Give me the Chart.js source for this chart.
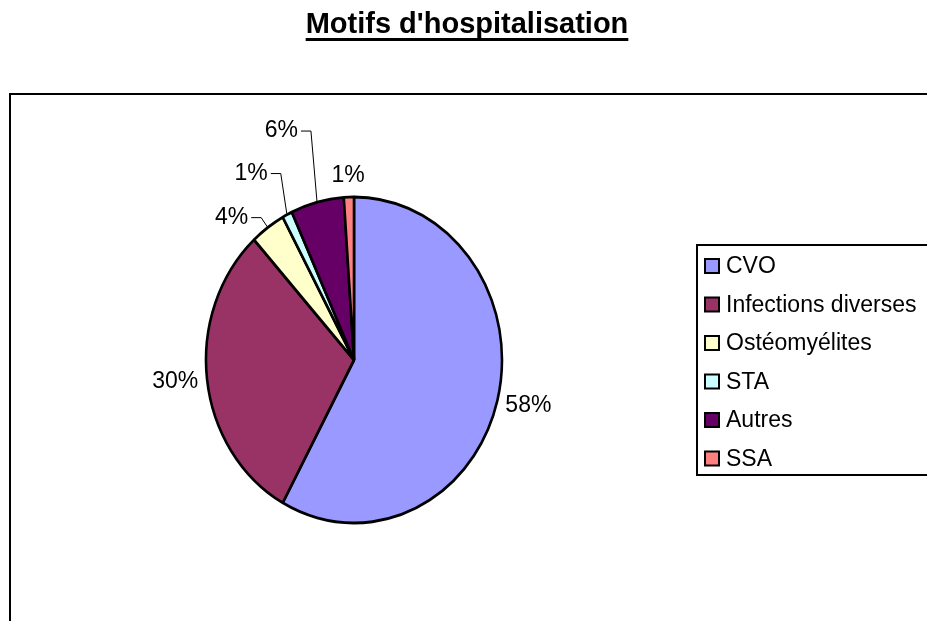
<!DOCTYPE html>
<html>
<head>
<meta charset="utf-8">
<script src="https://cdn.jsdelivr.net/npm/chart.js@4/dist/chart.umd.min.js"></script>
<style>
  html, body { margin: 0; padding: 0; background: #fff; }
</style>
</head>
<body>
<canvas id="pie" width="927" height="621"></canvas>
<script>
// données (en %)
const categories = ["CVO", "Infections diverses", "Ostéomyélites", "STA", "Autres", "SSA"];
const shares = [58.0, 30.2, 3.8, 1.1, 5.8, 1.1];
const sliceColors = ["#9999FF", "#993366", "#FFFFCC", "#CCFFFF", "#660066", "#FF8080"];
const chartTitle = "Motifs d'hospitalisation";

// hauteur des traits de rappel pour les petites parts (0 = étiquette simple)
const leaderLift = [0, 0, 9, 40, 70, 0];

const FONT = "'Liberation Sans', Arial, sans-serif";
const SQUASH = 163 / 148; // le camembert d'origine est un peu ovale

// cadre, titre souligné
const framePlugin = {
    id: "frame",
    beforeDraw(chart) {
        const ctx = chart.ctx;
        ctx.save();
        ctx.fillStyle = "#fff";
        ctx.fillRect(0, 0, chart.width, chart.height);
        ctx.strokeStyle = "#000";
        ctx.lineWidth = 2;
        ctx.strokeRect(10, 94, chart.width + 20, chart.height + 20);

        ctx.font = "bold 29px " + FONT;
        ctx.fillStyle = "#000";
        ctx.textAlign = "center";
        ctx.textBaseline = "alphabetic";
        ctx.fillText(chartTitle, 467, 33);
        const w = ctx.measureText(chartTitle).width;
        ctx.fillRect(467 - w / 2, 38, w, 3);
        ctx.restore();
    }
};

// écrase le camembert verticalement puis pose les étiquettes
const ovalPlugin = {
    id: "oval",
    beforeDatasetsDraw(chart) {
        const arc = chart.getDatasetMeta(0).data[0];
        const ctx = chart.ctx;
        ctx.save();
        ctx.translate(arc.x, arc.y);
        ctx.scale(1, SQUASH);
        ctx.translate(-arc.x, -arc.y);
    },
    afterDatasetsDraw(chart) {
        const ctx = chart.ctx;
        ctx.restore();

        const data = chart.data.datasets[0].data;
        const total = data.reduce((a, b) => a + b, 0);
        ctx.save();
        ctx.font = "23px " + FONT;
        ctx.fillStyle = "#000";
        ctx.strokeStyle = "#000";
        ctx.lineWidth = 1;
        chart.getDatasetMeta(0).data.forEach((arc, i) => {
            const a = (arc.startAngle + arc.endAngle) / 2;
            const R = arc.outerRadius + 1;
            const cos = Math.cos(a), sin = Math.sin(a);
            const ex = arc.x + R * cos;
            const ey = arc.y + R * SQUASH * sin;
            const txt = Math.round(data[i] / total * 100) + "%";
            const halfW = ctx.measureText(txt).width / 2;
            ctx.textBaseline = "middle";
            if (leaderLift[i] > 0) {
                const bx = ex - 6, by = ey - leaderLift[i];
                ctx.beginPath();
                ctx.moveTo(ex, ey);
                ctx.lineTo(bx, by);
                ctx.lineTo(bx - 10, by);
                ctx.stroke();
                ctx.textAlign = "right";
                ctx.fillText(txt, bx - 13, by);
            } else {
                ctx.textAlign = "center";
                ctx.fillText(txt, ex + cos * (8 + halfW), ey + sin * (8 + 12));
            }
        });
        ctx.restore();
    }
};

// légende encadrée à droite
const legendPlugin = {
    id: "boxLegend",
    afterDraw(chart) {
        const ctx = chart.ctx;
        const colors = chart.data.datasets[0].backgroundColor;
        ctx.save();
        ctx.strokeStyle = "#000";
        ctx.lineWidth = 2;
        ctx.strokeRect(697, 245, 300, 230);
        ctx.font = "23px " + FONT;
        ctx.textAlign = "left";
        ctx.textBaseline = "middle";
        chart.data.labels.forEach((lab, i) => {
            const y = 266 + i * 38.5;
            ctx.fillStyle = colors[i];
            ctx.fillRect(705, y - 7, 14, 14);
            ctx.strokeRect(705, y - 7, 14, 14);
            ctx.fillStyle = "#000";
            ctx.fillText(lab, 726, y + 1);
        });
        ctx.restore();
    }
};

const chart = new Chart(document.getElementById("pie"), {
    type: "pie",
    data: {
        labels: categories,
        datasets: [{
            data: shares,
            backgroundColor: sliceColors,
            borderColor: "#000",
            borderWidth: 2.6,
            radius: 148
        }]
    },
    options: {
        responsive: false,
        animation: false,
        events: [],
        layout: { padding: { left: 0, right: 219, top: 100, bottom: 1 } },
        plugins: {
            legend: { display: false },
            title: { display: false },
            tooltip: { enabled: false }
        }
    },
    plugins: [framePlugin, ovalPlugin, legendPlugin]
});
</script>
</body>
</html>
